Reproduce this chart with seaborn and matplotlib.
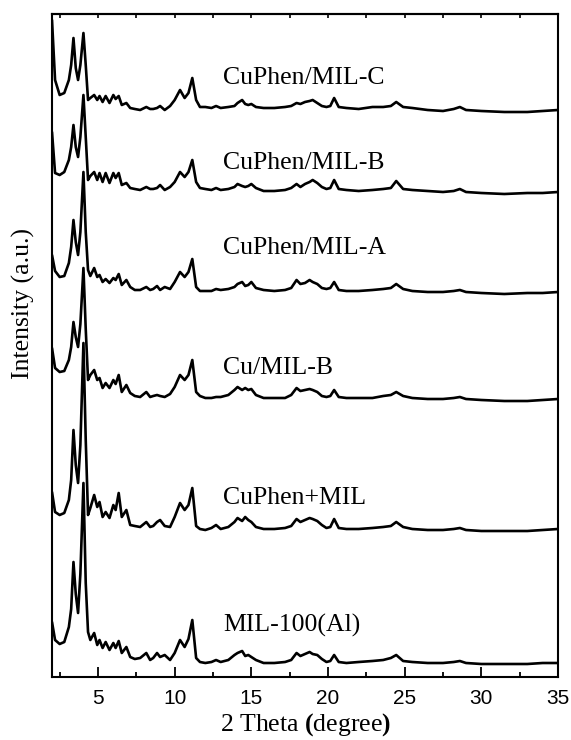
import numpy as np
import pandas as pd
import matplotlib
matplotlib.use("Agg")
import matplotlib.pyplot as plt
import seaborn as sns

# 2-theta positions (deg) shared by all patterns
two_theta = [2.0, 2.2, 2.5, 2.8, 3.1, 3.25, 3.4, 3.55, 3.7, 3.85, 4.05, 4.2, 4.35, 4.5,
             4.75, 4.95, 5.1, 5.3, 5.5, 5.75, 6.0, 6.15, 6.35, 6.55, 6.85, 7.1, 7.4, 7.75,
             8.15, 8.4, 8.6, 8.85, 9.05, 9.35, 9.7, 10.0, 10.35, 10.65, 10.9, 11.15, 11.4, 11.65,
             12.0, 12.4, 12.7, 13.0, 13.5, 13.9, 14.1, 14.4, 14.6, 14.8, 15.0, 15.3, 15.8, 16.5,
             17.2, 17.6, 17.95, 18.2, 18.5, 18.8, 19.0, 19.3, 19.6, 19.9, 20.15, 20.4, 20.7, 21.2,
             22.0, 22.9, 23.6, 24.1, 24.45, 24.9, 25.5, 26.5, 27.5, 28.2, 28.6, 29.0, 30.0, 31.5,
             33.0, 34.0, 35.0]

# intensities above each pattern's own baseline (a.u.)
mil_100 = [42, 24, 20, 22, 37, 55, 102, 70, 51, 90, 181, 81, 32, 24,
           31, 19, 24, 16, 22, 14, 21, 16, 23, 11, 17, 7, 5, 6,
           11, 4, 6, 11, 7, 9, 4, 11, 24, 17, 25, 44, 6, 2,
           1, 2, 4, 2, 4, 9, 11, 13, 8, 9, 7, 4, 1, 1,
           2, 4, 11, 8, 10, 12, 10, 9, 5, 2, 3, 9, 2, 1,
           2, 3, 4, 6, 9, 3, 2, 1, 1, 2, 3, 1, 0, 0,
           0, 1, 1]
cuphen_mix = [38, 18, 15, 17, 30, 50, 100, 65, 47, 85, 187, 90, 15, 22,
              35, 23, 28, 13, 18, 12, 25, 20, 37, 13, 20, 5, 4, 3,
              8, 3, 4, 8, 10, 4, 3, 13, 27, 20, 25, 42, 4, 1,
              0, 2, 5, 1, 3, 8, 12, 9, 13, 10, 8, 3, 1, 1,
              2, 4, 11, 8, 10, 12, 11, 9, 5, 2, 3, 11, 2, 1,
              1, 2, 3, 4, 8, 3, 1, 0, 0, 1, 2, 0, -1, -1,
              -1, 0, 1]
cu_mil_b = [51, 31, 27, 28, 39, 52, 77, 62, 52, 75, 131, 70, 19, 24,
            29, 19, 21, 11, 16, 11, 19, 15, 24, 7, 14, 6, 3, 2,
            7, 2, 3, 4, 3, 2, 5, 12, 24, 19, 24, 39, 7, 3,
            1, 1, 2, 2, 4, 9, 12, 9, 11, 9, 10, 4, 1, 1,
            1, 4, 11, 8, 9, 10, 9, 7, 3, 2, 3, 9, 2, 1,
            1, 1, 3, 4, 7, 3, 1, 0, 0, 1, 2, 0, -1, -2,
            -2, -1, 0]
cuphen_mil_a = [37, 21, 15, 16, 29, 45, 72, 50, 37, 60, 120, 60, 22, 16,
                24, 15, 17, 10, 13, 9, 14, 12, 18, 7, 12, 5, 2, 2,
                5, 2, 3, 6, 2, 5, 3, 10, 20, 15, 20, 33, 5, 1,
                1, 1, 3, 2, 3, 5, 8, 10, 6, 7, 10, 4, 2, 1,
                2, 4, 12, 8, 9, 12, 10, 8, 4, 3, 4, 10, 2, 1,
                1, 2, 3, 4, 8, 3, 1, 0, 0, 1, 2, 0, -1, -2,
                -1, -1, 0]
cuphen_mil_b = [60, 19, 17, 20, 32, 45, 67, 45, 35, 55, 97, 55, 12, 16,
                20, 12, 19, 10, 19, 9, 19, 14, 19, 7, 9, 4, 3, 2,
                5, 3, 3, 4, 7, 2, 5, 10, 20, 15, 20, 32, 10, 4,
                3, 2, 4, 2, 3, 5, 8, 6, 5, 6, 8, 4, 1, 1,
                2, 4, 8, 5, 8, 10, 12, 9, 5, 3, 4, 12, 3, 2,
                1, 2, 3, 4, 11, 3, 2, 1, 0, 1, 3, 0, -1, -2,
                -1, -1, 0]
cuphen_mil_c = [90, 30, 15, 17, 30, 45, 72, 42, 30, 45, 77, 45, 10, 12,
                15, 10, 14, 8, 14, 7, 15, 11, 14, 5, 7, 2, 1, 0,
                3, 1, 1, 2, 4, 0, 4, 10, 20, 12, 17, 32, 10, 3,
                3, 2, 4, 2, 3, 4, 7, 10, 6, 5, 6, 3, 2, 2,
                3, 4, 7, 6, 8, 9, 10, 7, 4, 3, 4, 12, 3, 2,
                1, 3, 3, 4, 8, 3, 2, 0, -1, 1, 3, 0, -1, -2,
                -2, -1, 0]

samples = ['MIL-100(Al)', 'CuPhen+MIL', 'Cu/MIL-B', 'CuPhen/MIL-A', 'CuPhen/MIL-B', 'CuPhen/MIL-C']
patterns = [mil_100, cuphen_mix, cu_mil_b, cuphen_mil_a, cuphen_mil_b, cuphen_mil_c]
offsets = [13, 147, 278, 385, 485, 567]
label_y = [52, 179, 309, 429, 514, 599]

rows = []
for name, vals, off in zip(samples, patterns, offsets):
    for t, v in zip(two_theta, vals):
        rows.append({'sample': name, 'two_theta': t, 'intensity': v + off})
df = pd.DataFrame(rows)

sns.set_style('ticks', {'axes.edgecolor': 'black', 'text.color': 'black',
                        'axes.labelcolor': 'black', 'xtick.color': 'black',
                        'ytick.color': 'black'})
plt.rcParams['font.family'] = ['Liberation Serif', 'DejaVu Serif']
plt.rcParams['mathtext.fontset'] = 'custom'
plt.rcParams['mathtext.rm'] = 'Liberation Serif'
plt.rcParams['mathtext.bf'] = 'Liberation Serif:bold'

fig = plt.figure(figsize=(5.71, 7.40), dpi=100)
ax = fig.add_axes([52 / 571, 1 - 677 / 740, 506 / 571, 663 / 740])

sns.lineplot(data=df, x='two_theta', y='intensity', units='sample', estimator=None,
             color='black', linewidth=1.9, ax=ax, sort=False)

for name, y in zip(samples, label_y):
    ax.text(13.15, y, name, fontsize=18.5, ha='left', va='center', color='black')

ax.set_xlim(2, 35)
ax.set_ylim(0, 663)
ax.set_xticks(np.arange(5, 36, 5))
ax.set_xticks(np.arange(2.5, 35, 5), minor=True)
ax.set_yticks([])
ax.tick_params(axis='x', which='major', direction='in', length=7, width=1.3, pad=9,
               labelsize=15, labelfontfamily='Liberation Sans', colors='black')
ax.tick_params(axis='x', which='minor', direction='in', length=3.6, width=1.3, colors='black')
for s in ax.spines.values():
    s.set_linewidth(1.5)
    s.set_color('black')

top = ax.secondary_xaxis('top')
top.set_xticks(np.arange(2.5, 35, 2.5))
top.tick_params(direction='in', length=3, width=1.2, labeltop=False, colors='black')
top.spines['top'].set_linewidth(1.5)
top.spines['top'].set_color('black')

ax.set_xlabel(r'2 Theta $\mathbf{(}$degree$\mathbf{)}$', fontsize=18.5, labelpad=2, color='black')
ax.set_ylabel('Intensity (a.u.)', fontsize=18.5, va='center', color='black')
ax.yaxis.set_label_coords(-0.057, 0.564)

fig.savefig('out.png', dpi=100)
